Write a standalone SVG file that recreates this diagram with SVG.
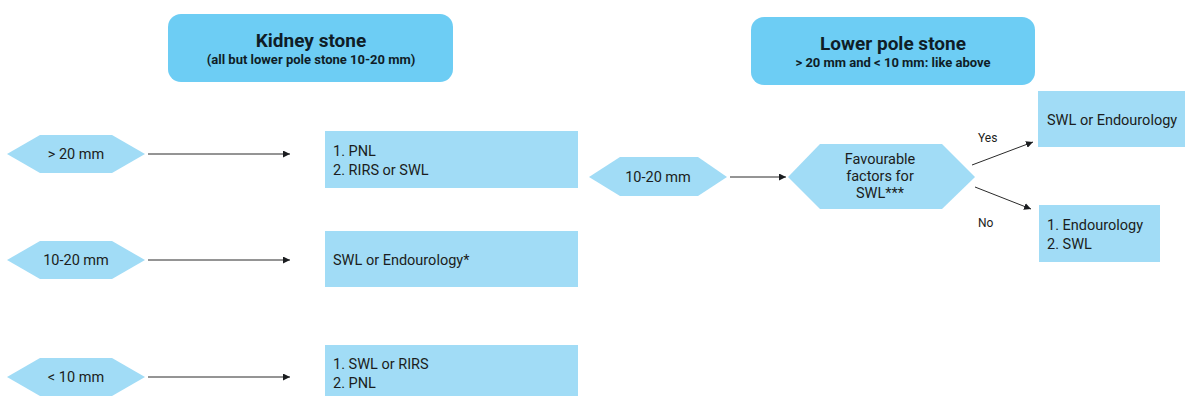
<svg xmlns="http://www.w3.org/2000/svg" width="1185" height="396" viewBox="0 0 1185 396">
  <style>
    .hdr { fill: #6dcdf4; }
    .box { fill: #a1dcf6; }
    .hex { fill: #a1dcf6; }
    .t { font-family: Roboto, "Liberation Sans", sans-serif; fill: #1b1d20; font-size: 14.5px; }
    .c { text-anchor: middle; }
    .ht { font-family: Roboto, "Liberation Sans", sans-serif; fill: #0f1d27; font-weight: bold; text-anchor: middle; }
    .lbl { font-family: Roboto, "Liberation Sans", sans-serif; fill: #1b1d20; font-size: 12px; }
    .edge { stroke: #2a2a2a; stroke-width: 1; fill: none; marker-end: url(#arr); }
  </style>
  <defs>
    <marker id="arr" viewBox="0 0 10 10" refX="10" refY="5" markerWidth="7" markerHeight="7" markerUnits="userSpaceOnUse" orient="auto">
      <path d="M0,0 L10,5 L0,10 z" fill="#1b1d20"/>
    </marker>
  </defs>
  <rect width="1185" height="396" fill="#ffffff"/>

  <!-- headers -->
  <g id="kidney-header">
    <rect class="hdr" x="168" y="14" width="285" height="68" rx="13"/>
    <text class="ht" x="311" y="47" font-size="19">Kidney stone</text>
    <text class="ht" x="311" y="64" font-size="13">(all but lower pole stone 10-20 mm)</text>
  </g>
  <g id="lowerpole-header">
    <rect class="hdr" x="751" y="17" width="284" height="68" rx="13"/>
    <text class="ht" x="893" y="50" font-size="19">Lower pole stone</text>
    <text class="ht" x="893" y="67" font-size="13">&gt; 20 mm and &lt; 10 mm: like above</text>
  </g>

  <!-- left column: size criteria -->
  <g id="size-gt20">
    <polygon class="hex" points="7,154 40,135 112,135 145,154 112,173 40,173"/>
    <text class="t c" x="76" y="159" font-size="13">&gt; 20 mm</text>
  </g>
  <g id="size-10-20">
    <polygon class="hex" points="7,260 40,241 112,241 145,260 112,279 40,279"/>
    <text class="t c" x="76" y="265" font-size="13">10-20 mm</text>
  </g>
  <g id="size-lt10">
    <polygon class="hex" points="7,377 40,358 112,358 145,377 112,396 40,396"/>
    <text class="t c" x="76" y="382" font-size="13">&lt; 10 mm</text>
  </g>

  <!-- left column: treatments -->
  <g id="tx-gt20">
    <rect class="box" x="325" y="131" width="253" height="57"/>
    <text class="t" x="333" y="156">1. PNL</text>
    <text class="t" x="333" y="175">2. RIRS or SWL</text>
  </g>
  <g id="tx-10-20">
    <rect class="box" x="325" y="231" width="253" height="56"/>
    <text class="t" x="333" y="265">SWL or Endourology*</text>
  </g>
  <g id="tx-lt10">
    <rect class="box" x="325" y="345" width="253" height="51"/>
    <text class="t" x="333" y="369">1. SWL or RIRS</text>
    <text class="t" x="333" y="388">2. PNL</text>
  </g>

  <!-- lower pole branch -->
  <g id="lp-10-20">
    <polygon class="hex" points="589,177 620,157 698,157 727,177 698,196 620,196"/>
    <text class="t c" x="658" y="182" font-size="14">10-20 mm</text>
  </g>
  <g id="favourable">
    <polygon class="hex" points="788,177 820,144 942,144 975,177 942,209 820,209"/>
    <text class="t c" x="880" y="164" font-size="14">Favourable</text>
    <text class="t c" x="880" y="181" font-size="14">factors for</text>
    <text class="t c" x="880" y="198" font-size="14">SWL***</text>
  </g>
  <g id="lp-yes">
    <rect class="box" x="1038" y="91" width="147" height="56"/>
    <text class="t" x="1047" y="125" font-size="16">SWL or Endourology</text>
  </g>
  <g id="lp-no">
    <rect class="box" x="1039" y="205" width="121" height="57"/>
    <text class="t" x="1047" y="230" font-size="15.5">1. Endourology</text>
    <text class="t" x="1047" y="249" font-size="15.5">2. SWL</text>
  </g>

  <!-- connectors -->
  <g id="connectors">
    <line class="edge" x1="148" y1="154" x2="290" y2="154"/>
    <line class="edge" x1="148" y1="260" x2="290" y2="260"/>
    <line class="edge" x1="148" y1="377" x2="290" y2="377"/>
    <line class="edge" x1="730" y1="177" x2="786" y2="177"/>
    <line class="edge" x1="972" y1="165" x2="1033" y2="142"/>
    <line class="edge" x1="975" y1="187" x2="1031" y2="209"/>
    <text class="lbl" x="978" y="142">Yes</text>
    <text class="lbl" x="978" y="227">No</text>
  </g>
</svg>
